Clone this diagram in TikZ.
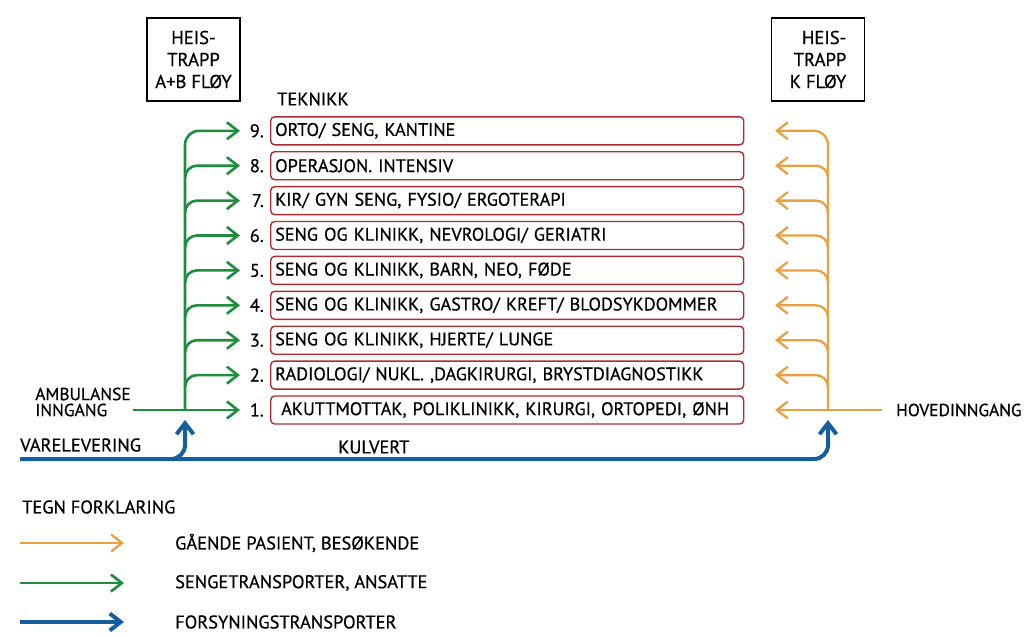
\documentclass[tikz,border=0pt]{standalone}
\usepackage{fontspec}
\setmainfont{PT Sans}[UprightFeatures={FakeBold=0.6}]
\usetikzlibrary{arrows.meta}

\definecolor{gangcol}{RGB}{232,160,64}
\definecolor{sengcol}{RGB}{28,142,62}
\definecolor{varecol}{RGB}{22,94,158}
\definecolor{etasjecol}{RGB}{172,44,50}

\tikzset{
  skrift/.style={font=\fontsize{18.4}{20}\selectfont},
  txt/.style={skrift, inner sep=0pt},
  etasje/.style={font=\fontsize{18.2}{20}\selectfont, draw=etasjecol,
    line width=1.4pt, rounded corners=4pt, minimum height=28pt,
    text width=464pt, align=left, inner xsep=4.5pt, inner ysep=0pt, anchor=west},
  heis/.style={font=\fontsize{18.6}{22}\selectfont, draw, line width=1.3pt,
    minimum width=93pt, minimum height=83pt, inner sep=2pt},
  pil/.style={-{Straight Barb[length=11pt,width=17pt]}},
  gang/.style={gangcol, line width=2.3pt},
  seng/.style={sengcol, line width=2.6pt},
  vare/.style={varecol, line width=4pt},
}

\begin{document}
\begin{tikzpicture}[x=1pt, y=-1pt]
  \useasboundingbox (0,0) rectangle (1026,635);

  % heis og trapp
  \node[heis, align=center] (heisab) at (193.5,59.5) {HEIS-\\TRAPP\\A+B FLØY};
  \node[heis, align=right]  (heisk)  at (818,59.5)   {HEIS-\\TRAPP\\K FLØY};

  \node[txt, anchor=west] (teknikk) at (277,99) {TEKNIKK};

  % etasjer
  \foreach \i/\navn in {%
      1/{\ AKUTTMOTTAK, POLIKLINIKK, KIRURGI, ORTOPEDI, ØNH},
      2/{RADIOLOGI/ NUKL. ,DAGKIRURGI, BRYSTDIAGNOSTIKK},
      3/{SENG OG KLINIKK, HJERTE/ LUNGE},
      4/{SENG OG KLINIKK, GASTRO/ KREFT/ BLODSYKDOMMER},
      5/{SENG OG KLINIKK, BARN, NEO, FØDE},
      6/{SENG OG KLINIKK, NEVROLOGI/ GERIATRI},
      7/{KIR/ GYN SENG, FYSIO/ ERGOTERAPI},
      8/{OPERASJON. INTENSIV},
      9/{ORTO/ SENG, KANTINE}} {
    \pgfmathsetmacro\y{410-(\i-1)*34.9}
    \node[etasje] (f\i) at (270,\y) {\navn};
    \node[txt, anchor=east] (n\i) at (264,\y) {\i.};
    \coordinate (gs\i) at (185,\y+12);
    \coordinate (gp\i) at (240,\y);
    \coordinate (os\i) at (828,\y+12);
    \coordinate (op\i) at (775,\y);
  }

  % innganger
  \node[txt, anchor=east, align=left,
        font=\fontsize{17.5}{16}\selectfont] (ambulanse) at (131,402) {AMBULANSE\\INNGANG};
  \node[txt, anchor=west, font=\fontsize{17.4}{20}\selectfont] (hoved) at (896,410) {HOVEDINNGANG};
  \node[txt, anchor=west] (vare)    at (20,445)  {VARELEVERING};
  \node[txt, anchor=west] (kulvert) at (338,447) {KULVERT};

  \coordinate (amb)  at (133,410);
  \coordinate (hov)  at (882,410);
  \coordinate (g1)   at (185,410);
  \coordinate (o1)   at (828,410);

  % sengetransport
  \draw[seng, pil] (amb) -- (gp1);
  \draw[seng, pil, rounded corners=14pt] (g1) |- (gp9);
  \foreach \i in {2,...,8}
    \draw[seng, pil, rounded corners=12pt] (gs\i) |- (gp\i);

  % gaaende
  \draw[gang, pil] (hov) -- (op1);
  \draw[gang, pil, rounded corners=14pt] (o1) |- (op9);
  \foreach \i in {2,...,8}
    \draw[gang, pil, rounded corners=12pt] (os\i) |- (op\i);

  % kulvert
  \coordinate (kstart) at (20,459);
  \coordinate (kgren)  at (171,459);
  \coordinate (ktipa)  at (185,420);
  \coordinate (ktipk)  at (828,420);
  \draw[vare, pil, rounded corners=14pt] (kstart) -| (ktipk);
  \draw[vare, pil, rounded corners=14pt] (kgren) -| (ktipa);

  % tegnforklaring
  \node[txt, anchor=west] (tegn) at (22,507) {TEGN FORKLARING};
  \foreach \j/\stil/\tekst/\yy in {1/gang/{GÅENDE PASIENT, BESØKENDE}/543,
                                   2/seng/{SENGETRANSPORTER, ANSATTE}/583,
                                   3/vare/{FORSYNINGSTRANSPORTER}/622} {
    \coordinate (la\j) at (20,\yy);
    \coordinate (lb\j) at (124,\yy);
    \draw[\stil, pil] (la\j) -- (lb\j);
    \node[txt, anchor=west] (lt\j) at (175,\yy) {\tekst};
  }
\end{tikzpicture}
\end{document}
